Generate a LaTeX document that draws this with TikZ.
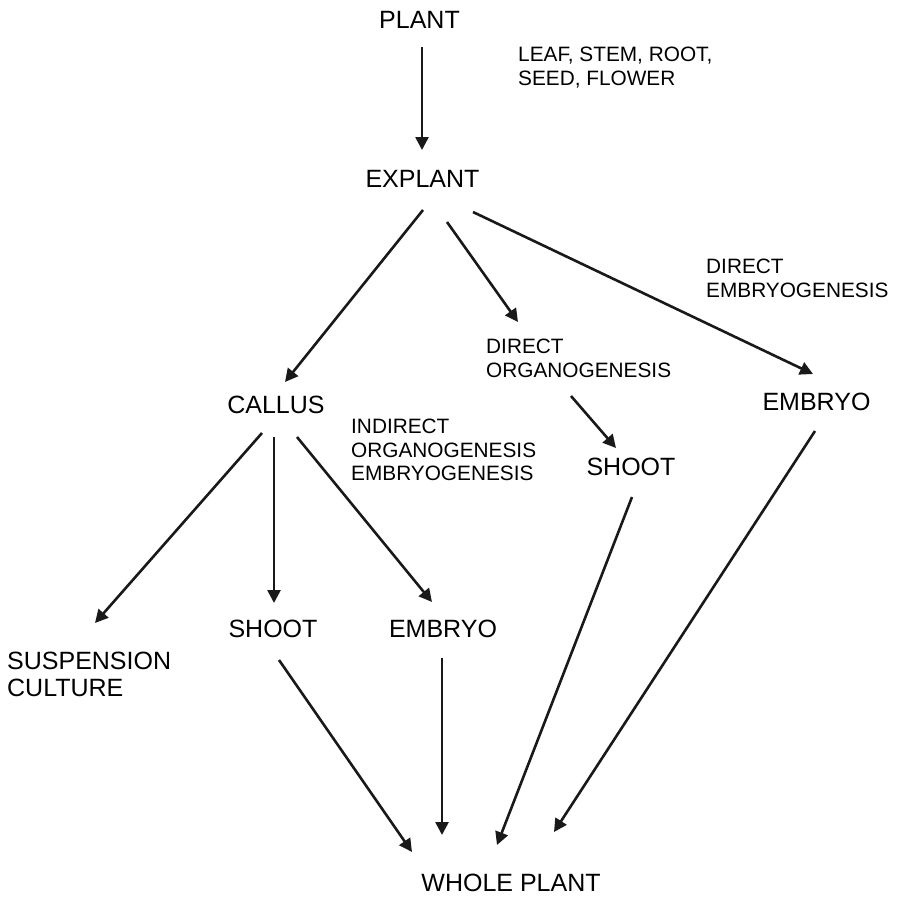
\documentclass[tikz,border=0pt]{standalone}
\usepackage{fontspec}
\setmainfont{Liberation Sans}
\usetikzlibrary{arrows.meta}

\tikzset{
    stage/.style={inner sep=0pt, font=\fontsize{25}{27}\selectfont, align=left},
    note/.style={inner sep=0pt, anchor=north west, align=left, font=\fontsize{20.8}{23.5}\selectfont},
    arr/.style={line width=2.6pt, -{Triangle[length=13pt,width=13pt]}, draw=black!90}
}

\begin{document}
\begin{tikzpicture}[x=1pt,y=-1pt]
        \useasboundingbox (0,0) rectangle (898,897);
        %% stages
        \node[stage] (plant)   at (419.5,20) {PLANT};
        \node[stage] (explant) at (422.5,179) {EXPLANT};
        \node[stage] (callus)  at (276,405) {CALLUS};
        \node[stage] (embryoR) at (816.5,402) {EMBRYO};
        \node[stage] (shootM)  at (631,467) {SHOOT};
        \node[stage] (shootL)  at (273,629) {SHOOT};
        \node[stage] (embryoM) at (443,629) {EMBRYO};
        \node[stage] (whole)   at (511,883) {WHOLE PLANT};
        \node[stage,anchor=north west] (susp) at (7,652) {SUSPENSION\\CULTURE};
        %% side notes
        \node[note] (parts)  at (518,47)  {LEAF, STEM, ROOT,\\SEED, FLOWER};
        \node[note] (dirorg) at (486,339) {DIRECT\\ORGANOGENESIS};
        \node[note] (diremb) at (706,259) {DIRECT\\EMBRYOGENESIS};
        \node[note] (indir)  at (351,419) {INDIRECT\\ORGANOGENESIS\\EMBRYOGENESIS};
        %% arrows
        \draw[arr] ([shift={(2.5,27)}]plant.center) -- ([shift={(-0.5,-29)}]explant.center);
        \draw[arr] ([shift={(0.5,31)}]explant.center) -- ([shift={(9,-23)}]callus.center);
        \draw[arr] ([shift={(24.5,43)}]explant.center) -- ([shift={(32,-17)}]dirorg.north west);
        \draw[arr] ([shift={(50.5,33)}]explant.center) -- ([shift={(-3.5,-28)}]embryoR.center);
        \draw[arr] ([shift={(85,57)}]dirorg.north west) -- ([shift={(-15,-19)}]shootM.center);
        \draw[arr] ([shift={(-14,28)}]callus.center) -- ([shift={(88,-29)}]susp.north west);
        \draw[arr] ([shift={(-2,32)}]callus.center) -- ([shift={(1,-26)}]shootL.center);
        \draw[arr] ([shift={(21,32)}]callus.center) -- ([shift={(-11,-27)}]embryoM.center);
        \draw[arr] ([shift={(6,31)}]shootL.center) -- ([shift={(-99,-31)}]whole.center);
        \draw[arr] ([shift={(-1,29)}]embryoM.center) -- ([shift={(-69,-48)}]whole.center);
        \draw[arr] ([shift={(1,30)}]shootM.center) -- ([shift={(-14,-38)}]whole.center);
        \draw[arr] ([shift={(-1.5,29)}]embryoR.center) -- ([shift={(43,-51)}]whole.center);
    \end{tikzpicture}
\end{document}
